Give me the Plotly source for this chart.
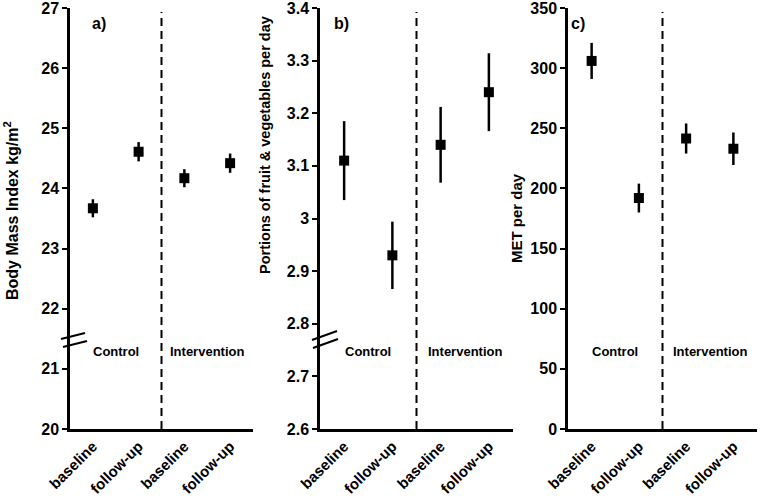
import plotly.graph_objects as go

categories = ["baseline", "follow-up", "baseline", "follow-up"]
x_pos = [0, 1, 2, 3]

bmi_mean = [23.67, 24.61, 24.17, 24.42]
bmi_err = [0.15, 0.16, 0.15, 0.16]

fv_mean = [3.11, 2.93, 3.14, 3.24]
fv_err = [0.075, 0.064, 0.072, 0.074]

met_mean = [306, 192, 241.5, 233]
met_err = [15, 12, 12.5, 13.5]

group_labels = ["Control", "Intervention"]
panel_labels = ["a)", "b)", "c)"]
y_titles = ["Body Mass Index kg/m<sup>2</sup>",
            "Portions of fruit & vegetables per day",
            "MET per day"]

W, H = 760, 498
TOP, BOTTOM = 8, 429
FONT = "Liberation Sans"


def px_x(x):
    return x / W


def px_y(y):
    return (BOTTOM - y) / (BOTTOM - TOP)


fig = go.Figure()

panels = [
    dict(mean=bmi_mean, err=bmi_err, xd=(70, 253), yr=(20, 27),
         ticks=[20, 21, 22, 23, 24, 25, 26, 27],
         brk=[((61, 339), (85, 333)), ((63, 347), (87, 341))],
         title_xy=(11, 211), title_size=16, lab_x=90),
    dict(mean=fv_mean, err=fv_err, xd=(320, 513), yr=(2.6, 3.4),
         ticks=[2.6, 2.7, 2.8, 2.9, 3.0, 3.1, 3.2, 3.3, 3.4],
         ticktext=["2.6", "2.7", "2.8", "2.9", "3", "3.1", "3.2", "3.3", "3.4"],
         brk=[((312, 340), (337, 331)), ((313, 348), (338, 339))],
         title_xy=(265, 145), title_size=14.5, lab_x=341),
    dict(mean=met_mean, err=met_err, xd=(568, 757), yr=(0, 350),
         ticks=[0, 50, 100, 150, 200, 250, 300, 350],
         brk=[], title_xy=(516, 218), title_size=15, lab_x=587),
]

for i, p in enumerate(panels):
    n = "" if i == 0 else str(i + 1)
    xa = "x" + n
    ya = "y" + n
    fig.add_trace(go.Scatter(
        x=x_pos, y=p["mean"], mode="markers",
        marker=dict(symbol="square", size=10, color="black"),
        error_y=dict(type="data", array=p["err"], visible=True,
                     thickness=2.5, width=0, color="black"),
        xaxis=xa, yaxis=ya, showlegend=False, cliponaxis=False))
    xkey = "xaxis" + n
    ykey = "yaxis" + n
    fig.layout[xkey] = dict(
        domain=[px_x(p["xd"][0]), px_x(p["xd"][1])], anchor=ya, automargin=False,
        range=[-0.5, 3.5], tickmode="array", tickvals=x_pos, ticktext=categories,
        tickangle=-45, showline=True, linecolor="black", linewidth=2.5,
        ticks="", showgrid=False, zeroline=False, fixedrange=True,
        ticklabeloverflow="allow",
        tickfont=dict(family=FONT, size=15, color="black", weight="bold"))
    yd = dict(
        domain=[0, 1], anchor=xa, range=list(p["yr"]), automargin=False,
        tickmode="array", tickvals=p["ticks"],
        showline=True, linecolor="black", linewidth=2.5,
        ticks="outside", ticklen=5, tickwidth=2, tickcolor="black",
        showgrid=False, zeroline=False, fixedrange=True,
        ticklabeloverflow="allow",
        tickfont=dict(family=FONT, size=16, color="black", weight="bold"))
    if "ticktext" in p:
        yd["ticktext"] = p["ticktext"]
    fig.layout[ykey] = yd

    # dashed divider between groups
    fig.add_shape(type="line", xref=xa, yref=ya + " domain", x0=1.5, x1=1.5,
                  y0=0, y1=px_y(12), line=dict(color="black", width=2, dash="8px,5px"))
    # axis break marks
    for (a, b) in p["brk"]:
        fig.add_shape(type="line", xref="paper", yref="paper",
                      x0=px_x(a[0]), x1=px_x(b[0]),
                      y0=px_y(a[1]), y1=px_y(b[1]),
                      line=dict(color="black", width=2))
    # group labels
    for gx, g in zip([0.5, 2.5], group_labels):
        fig.add_annotation(x=gx, y=px_y(361), xref=xa,
                           yref=ya + " domain", text=g, showarrow=False,
                           font=dict(family=FONT, size=13, color="black", weight="bold"))
    # panel label
    fig.add_annotation(x=px_x(p["lab_x"]), y=px_y(13), xref="paper", yref="paper",
                       text=panel_labels[i], showarrow=False,
                       font=dict(family=FONT, size=16, color="black", weight="bold"))
    # y title
    fig.add_annotation(x=px_x(p["title_xy"][0]), y=px_y(p["title_xy"][1]),
                       xref="paper", yref="paper", text=y_titles[i], textangle=-90,
                       showarrow=False, xanchor="center", yanchor="middle",
                       font=dict(family=FONT, size=p["title_size"], color="black",
                                 weight="bold"))

fig.update_layout(width=W, height=H, margin=dict(l=0, r=0, t=TOP, b=H - BOTTOM),
                  plot_bgcolor="white", paper_bgcolor="white")

fig.write_html("out.html", config={"displayModeBar": False},
               post_script="document.body.style.margin='0px';")
